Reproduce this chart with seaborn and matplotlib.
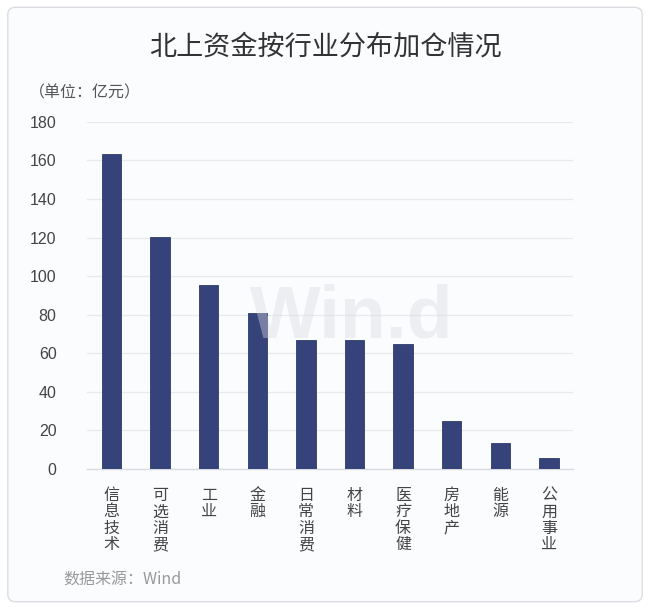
import matplotlib
matplotlib.use("Agg")
from matplotlib import pyplot as plt
from matplotlib.patches import FancyBboxPatch
import seaborn as sns
import pandas as pd

industries = ["信息技术", "可选消费", "工业", "金融", "日常消费", "材料", "医疗保健", "房地产", "能源", "公用事业"]
inflow = [163.4, 120.3, 95.5, 81.0, 66.6, 66.6, 64.8, 25.0, 13.5, 5.8]
y_ticks = [0, 20, 40, 60, 80, 100, 120, 140, 160, 180]

title = "北上资金按行业分布加仓情况"
unit_note = "（单位：亿元）"
source_note = "数据来源：Wind"

sns.set_theme(style="white")
plt.rcParams["font.family"] = ["Noto Sans CJK SC", "DejaVu Sans"]

df = pd.DataFrame({"industry": industries, "value": inflow})

bg = "#fbfcfe"
fig = plt.figure(figsize=(6.5, 6.09), dpi=100, facecolor="white")
frame = FancyBboxPatch((0.012, 0.012), 0.976, 0.976, boxstyle="round,pad=0,rounding_size=0.012",
                       transform=fig.transFigure, facecolor=bg, edgecolor="#dcdde2", linewidth=1.0, zorder=-5)
fig.patches.append(frame)

ax = fig.add_axes([0.134, 0.230, 0.748, 0.570])
ax.set_zorder(2)
ax.set_facecolor("none")

sns.barplot(data=df, x="industry", y="value", color="#36437a", width=0.4, saturation=1,
            edgecolor="#2e3a6c", linewidth=0.6, ax=ax, zorder=3)

ax.set_ylim(0, 180)
ax.set_yticks(y_ticks)
ax.set_xlim(-0.5, len(industries) - 0.5)
ax.grid(axis="y", color="#e9eaee", linewidth=0.9, zorder=0)
ax.set_axisbelow(True)
for s in ["top", "right", "left"]:
    ax.spines[s].set_visible(False)
ax.spines["bottom"].set_color("#dadbe0")
ax.spines["bottom"].set_linewidth(1.0)

ax.set_xlabel("")
ax.set_ylabel("")
ax.set_xticks(range(len(industries)))
ax.set_xticklabels(["\n".join(n) for n in industries], va="top", linespacing=0.95)
ax.tick_params(axis="x", length=0, pad=13, labelsize=11.5, labelcolor="#444444")
ax.tick_params(axis="y", length=0, pad=22, labelsize=11.5, labelcolor="#444444")
for lbl in ax.get_yticklabels():
    lbl.set_family(["Liberation Sans", "DejaVu Sans"])

# watermark
ax.text(0.545, 0.435, "Win.d", transform=ax.transAxes, ha="center", va="center",
        fontsize=54, fontweight="bold", color="#d8d9e0", alpha=0.4, zorder=4,
        family=["Liberation Sans", "DejaVu Sans"])

fig.text(0.5, 0.922, title, ha="center", va="center", fontsize=19.5, color="#333333")
fig.text(0.045, 0.848, unit_note, ha="left", va="center", fontsize=11.5, color="#555555")
fig.text(0.098, 0.047, source_note, ha="left", va="center", fontsize=11.5, color="#999999")

fig.savefig("out.png", dpi=100, facecolor="white")
